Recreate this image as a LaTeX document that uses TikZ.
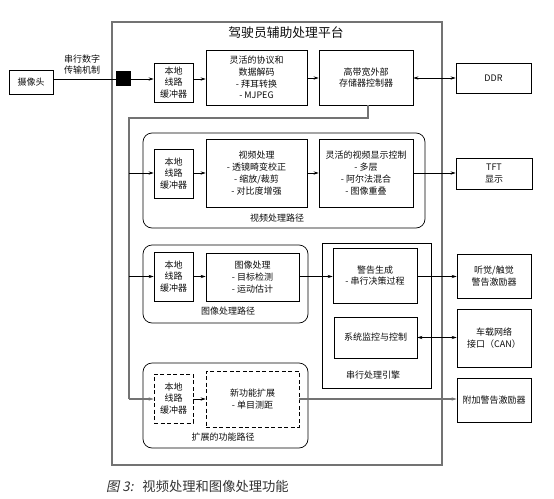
\documentclass[tikz,border=0pt]{standalone}
\usepackage{fontspec}
\setmainfont{Noto Sans CJK SC}
\newfontfamily\capit[FakeSlant=0.2]{Noto Sans CJK SC}
\usetikzlibrary{arrows.meta}
\definecolor{bus}{gray}{0.45}
\definecolor{txt}{gray}{0.05}
\tikzset{
  box/.style={draw=black, line width=0.7pt, inner sep=1pt, align=center, text=txt,
              font=\fontsize{9}{11.8}\selectfont},
  dbox/.style={box, dashed, dash pattern=on 4pt off 2.5pt},
  pathbox/.style={draw=black, line width=0.7pt, rounded corners=9pt},
  lbl/.style={text=txt, font=\fontsize{9}{11.8}\selectfont, align=center, inner sep=0pt},
  arr/.style={line width=0.6pt, -{Stealth[length=5pt,width=3.2pt]}},
  darr/.style={line width=0.6pt, {Stealth[length=5pt,width=3.2pt]}-{Stealth[length=5pt,width=3.2pt]}},
  busline/.style={draw=bus, line width=1.3pt},
  busarr/.style={draw=bus, line width=1.3pt, -{Stealth[length=5pt,width=3.2pt]}}
}
\begin{document}
\begin{tikzpicture}[x=1pt,y=-1pt]
\useasboundingbox (0,0) rectangle (554,498);
% platform
\draw[bus, line width=1.4pt] (112,22) rectangle (442,465);
\node[lbl, font=\fontsize{12.8}{14}\selectfont] (title) at (286,33) {驾驶员辅助处理平台};
% path containers
\draw[pathbox] (143,133) rectangle (425,228);
\draw[pathbox] (143,245) rectangle (308,323);
\draw[pathbox] (143,363) rectangle (308,448);
\node[draw=black, line width=0.7pt, minimum width=109pt, minimum height=145pt, inner sep=0pt] (engine) at (376.5,315.5) {};
% top row
\node[box, minimum width=44pt, minimum height=24pt] (cam) at (31,82) {摄像头};
\node[lbl] (serial) at (82,64.5) {串行数字\\传输机制};
\node[fill=black, minimum width=15pt, minimum height=15pt, inner sep=0pt] (blk) at (123.5,78.5) {};
\node[box, minimum width=39pt, minimum height=39pt] (buf1) at (173.5,82.5) {本地\\线路\\缓冲器};
\node[box, minimum width=101pt, minimum height=55pt] (proto) at (256.5,77.5) {灵活的协议和\\数据解码\\- 拜耳转换\\- MJPEG};
\node[box, minimum width=94pt, minimum height=55pt] (mem) at (366,77.5) {高带宽外部\\存储器控制器};
\node[box, minimum width=75pt, minimum height=30pt] (ddr) at (493.5,78) {DDR};
% video path
\node[box, minimum width=39pt, minimum height=49pt] (vbuf) at (173.5,173.5) {本地\\线路\\缓冲器};
\node[box, minimum width=101pt, minimum height=68pt] (vproc) at (256.5,173) {视频处理\\- 透镜畸变校正\\- 缩放/裁剪\\- 对比度增强};
\node[box, minimum width=94pt, minimum height=68pt] (vdisp) at (366,173) {灵活的视频显示控制\\- 多层\\- 阿尔法混合\\- 图像重叠};
\node[lbl] (vlabel) at (277,218.5) {视频处理路径};
\node[box, minimum width=76pt, minimum height=31pt] (tft) at (494,173.5) {TFT\\显示};
% image path
\node[box, minimum width=39pt, minimum height=49pt] (ibuf) at (173.5,276.5) {本地\\线路\\缓冲器};
\node[box, minimum width=93pt, minimum height=48pt] (iproc) at (252.5,277) {图像处理\\- 目标检测\\- 运动估计};
\node[lbl] (ilabel) at (228,311) {图像处理路径};
\node[box, minimum width=84pt, minimum height=55pt] (warn) at (375,275.5) {警告生成\\- 串行决策过程};
\node[box, minimum width=83pt, minimum height=41pt] (mon) at (375.5,337.5) {系统监控与控制};
\node[lbl] (elabel) at (373,375) {串行处理引擎};
\node[box, minimum width=74pt, minimum height=44pt] (audio) at (494,276) {听觉/触觉\\警告激励器};
\node[box, minimum width=74pt, minimum height=58pt] (can) at (494,338) {车载网络\\接口（CAN）};
% extended path
\node[dbox, minimum width=39pt, minimum height=49pt] (xbuf) at (173.5,398.5) {本地\\线路\\缓冲器};
\node[dbox, minimum width=93pt, minimum height=56pt] (xnew) at (252.5,399) {新功能扩展\\- 单目测距};
\node[lbl] (xlabel) at (223,437) {扩展的功能路径};
\node[box, minimum width=74pt, minimum height=44pt] (addw) at (494,400) {附加警告激励器};
% caption
\node[lbl, anchor=west, text=black!80, font=\fontsize{13.3}{15}\selectfont] (cap) at (106,486) {{\capit 图 3:}\ \ \ 视频处理和图像处理功能};
% connectors top
\coordinate (c1) at (cam.east |- 0,79);
\draw[line width=0.6pt] (c1) -- (c1 -| blk.west);
\coordinate (c2) at (blk.east |- 0,79);
\draw[arr] (c2) -- (c2 -| buf1.west);
\coordinate (c3) at (buf1.east |- 0,79);
\draw[arr] (c3) -- (c3 -| proto.west);
\coordinate (c4) at (proto.east |- 0,78);
\draw[arr] (c4) -- (c4 -| mem.west);
\coordinate (c5) at (mem.east |- 0,78);
\draw[darr] (c5) -- (c5 -| ddr.west);
% bus
\coordinate (b0) at (368,105);
\coordinate (b1) at (368,118);
\coordinate (b2) at (129,118);
\coordinate (b3) at (129,399);
\draw[busline] (b0) -- (b1) -- (b2) -- (b3);
\draw[busarr] (b3) -- (b3 -| xbuf.west);
\coordinate (bv) at (129,173);
\draw[arr] (bv) -- (bv -| vbuf.west);
\coordinate (bi) at (129,276.5);
\draw[arr] (bi) -- (bi -| ibuf.west);
% video path
\coordinate (v1) at (vbuf.east |- 0,173);
\draw[arr] (v1) -- (v1 -| vproc.west);
\coordinate (v2) at (vproc.east |- 0,173);
\draw[arr] (v2) -- (v2 -| vdisp.west);
\coordinate (v3) at (vdisp.east |- 0,173);
\draw[arr] (v3) -- (v3 -| tft.west);
% image path
\coordinate (i1) at (ibuf.east |- 0,276.5);
\draw[arr] (i1) -- (i1 -| iproc.west);
\coordinate (i2) at (iproc.east |- 0,276.5);
\draw[arr] (i2) -- (i2 -| warn.west);
\coordinate (i3) at (warn.east |- 0,276.5);
\draw[arr] (i3) -- (i3 -| audio.west);
\coordinate (m1) at (mon.east |- 0,337.5);
\draw[darr] (m1) -- (m1 -| can.west);
% extended
\coordinate (x1) at (xbuf.east |- 0,399);
\draw[arr] (x1) -- (x1 -| xnew.west);
\coordinate (x2) at (xnew.east |- 0,399);
\draw[busarr] (x2) -- (x2 -| addw.west);
\end{tikzpicture}
\end{document}
